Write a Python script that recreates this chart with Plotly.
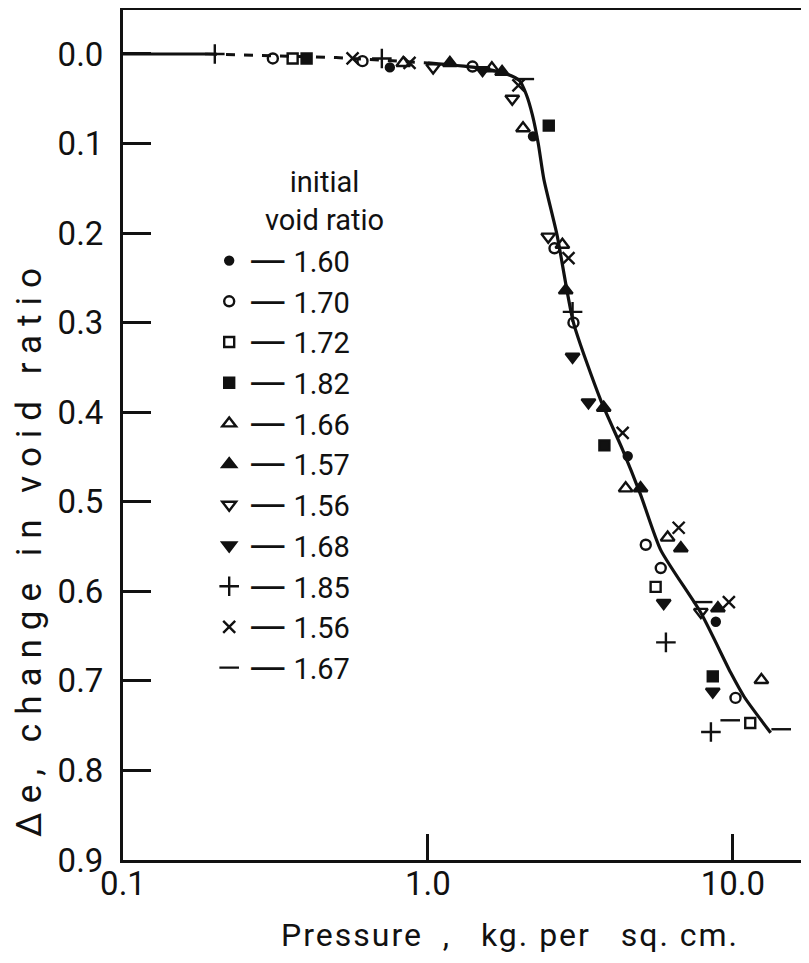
import plotly.graph_objects as go

# ---------------- data ----------------
# fitted curve (pressure kg/cm2, change in void ratio)
curve_p = [0.1, 0.19, 0.5, 1.0, 1.5, 1.8, 2.0, 2.1, 2.2, 2.3, 2.4, 2.65, 3.0, 3.68, 4.35, 4.98, 5.8, 7.85, 9.84, 10.9, 13.3]
curve_e = [0.0, 0.0, 0.004, 0.01, 0.016, 0.022, 0.03, 0.045, 0.068, 0.10, 0.14, 0.202, 0.30, 0.386, 0.442, 0.492, 0.554, 0.624, 0.691, 0.718, 0.758]

labels = ["1.60", "1.70", "1.72", "1.82", "1.66", "1.57", "1.56", "1.68", "1.85", "1.56", "1.67"]

p_160 = [0.75, 2.21, 4.52, 8.79]
e_160 = [0.015, 0.092, 0.449, 0.634]

p_170 = [0.31, 0.61, 1.40, 2.60, 3.0, 5.18, 5.8, 10.2]
e_170 = [0.005, 0.008, 0.014, 0.217, 0.30, 0.548, 0.574, 0.719]

p_172 = [0.36, 5.58, 11.4]
e_172 = [0.005, 0.595, 0.747]

p_182 = [0.40, 2.49, 3.79, 8.59]
e_182 = [0.005, 0.080, 0.437, 0.695]

p_166 = [0.83, 1.62, 2.05, 2.76, 4.45, 6.11, 12.4]
e_166 = [0.010, 0.016, 0.083, 0.213, 0.485, 0.540, 0.699]

p_157 = [1.18, 1.75, 2.83, 3.77, 4.98, 6.75, 8.93]
e_157 = [0.010, 0.020, 0.264, 0.395, 0.485, 0.552, 0.619]

p_156a = [1.04, 1.89, 2.48, 7.85]
e_156a = [0.015, 0.050, 0.204, 0.623]

p_168 = [1.51, 2.98, 3.36, 5.93, 8.59]
e_168 = [0.018, 0.338, 0.389, 0.613, 0.712]

p_185 = [0.20, 0.706, 2.98, 6.03, 8.47]
e_185 = [0.0, 0.005, 0.288, 0.657, 0.757]

p_156b = [0.566, 0.87, 1.98, 2.89, 4.35, 6.64, 9.70]
e_156b = [0.005, 0.010, 0.035, 0.228, 0.423, 0.529, 0.612]

p_167 = [2.07, 7.96, 9.8, 14.4]
e_167 = [0.028, 0.612, 0.744, 0.754]

y_ticks = [0.0, 0.1, 0.2, 0.3, 0.4, 0.5, 0.6, 0.7, 0.8, 0.9]
y_ticktext = ["0.0", "0.1", "0.2", "0.3", "0.4", "0.5", "0.6", "0.7", "0.8", "0.9"]
x_ticks = [0.1, 1.0, 10.0]
x_ticktext = ["0.1", "1.0", "10.0"]

legend_title = "initial<br>void ratio"
x_title = "Pressure\u00a0 ,\u00a0\u00a0 kg. per\u00a0\u00a0 sq. cm."
y_title = "\u0394e, change in void ratio"

# ---------------- style ----------------
FONT = "Roboto, Liberation Sans, sans-serif"
INK = "#111111"
DASH = '<span style="font-family:DejaVu Sans;font-size:37px">\u2014</span> '

series = [
    (p_160, e_160, "circle", 8),
    (p_170, e_170, "circle-open", 10),
    (p_172, e_172, "square-open", 10),
    (p_182, e_182, "square", 10),
    (p_166, e_166, "triangle-up-open", 12),
    (p_157, e_157, "triangle-up", 12),
    (p_156a, e_156a, "triangle-down-open", 12),
    (p_168, e_168, "triangle-down", 12),
    (p_185, e_185, "cross-thin", 14),
    (p_156b, e_156b, "x-thin", 12),
    (p_167, e_167, "line-ew", 14),
]

fig = go.Figure()

# curve: solid start, dashed middle, solid main branch
fig.add_trace(go.Scatter(x=curve_p[0:2], y=curve_e[0:2], mode="lines",
                         line=dict(color=INK, width=3), showlegend=False, hoverinfo="skip"))
fig.add_trace(go.Scatter(x=curve_p[1:4], y=curve_e[1:4], mode="lines",
                         line=dict(color=INK, width=3, dash="dash"), showlegend=False, hoverinfo="skip"))
fig.add_trace(go.Scatter(x=curve_p[3:], y=curve_e[3:], mode="lines",
                         line=dict(color=INK, width=3.2, shape="spline", smoothing=0.6),
                         showlegend=False, hoverinfo="skip"))

for (px, ey, sym, size), lab in zip(series, labels):
    fig.add_trace(go.Scatter(
        x=px, y=ey, mode="markers", name=DASH + lab,
        marker=dict(symbol=sym, size=size, color=INK,
                    line=dict(color=INK, width=2.4)),
    ))

# page body has an 8px margin: figure is sized/offset to compensate
fig.update_layout(
    width=801, height=955,
    margin=dict(l=115, r=2, t=2, b=103),
    paper_bgcolor="white", plot_bgcolor="white",
    font=dict(family=FONT, size=30, color=INK),
    showlegend=True,
    legend=dict(
        x=0.126, y=0.735, xanchor="left", yanchor="top",
        bgcolor="rgba(0,0,0,0)",
        font=dict(family=FONT, size=29, color=INK),
        itemwidth=30,
    ),
    annotations=[
        dict(text=legend_title, xref="paper", yref="paper", x=0.295, y=0.775,
             xanchor="center", yanchor="middle", align="center", showarrow=False,
             font=dict(family=FONT, size=29, color=INK)),
        dict(text='<span style="letter-spacing:2px">' + x_title + '</span>',
             xref="paper", yref="paper", x=(510 - 123) / 684, y=0, yshift=-75,
             xanchor="center", yanchor="middle", showarrow=False,
             font=dict(family=FONT, size=32, color=INK)),
        dict(text='<span style="letter-spacing:9px">' + y_title + '</span>',
             xref="paper", yref="paper", x=0, xshift=-94, y=1 - (548 - 10) / 850,
             xanchor="center", yanchor="middle", textangle=-90, showarrow=False,
             font=dict(family=FONT, size=35, color=INK)),
    ],
)

fig.update_xaxes(
    type="log", range=[-1, 1.243], automargin=False,
    tickvals=x_ticks, ticktext=x_ticktext,
    ticks="inside", ticklen=26, tickwidth=2.5, tickcolor=INK,
    showline=True, linewidth=3, linecolor=INK, mirror=True,
    showgrid=False, zeroline=False,
    tickfont=dict(family=FONT, size=33, color=INK),
    ticklabelstandoff=-8,
)
fig.update_yaxes(
    range=[0.9, -0.0491], automargin=False,
    tickvals=y_ticks, ticktext=y_ticktext,
    ticks="inside", ticklen=28, tickwidth=2.5, tickcolor=INK,
    showline=True, linewidth=3, linecolor=INK, mirror=True,
    showgrid=False, zeroline=False,
    tickfont=dict(family=FONT, size=33, color=INK),
    ticklabelstandoff=10,
)

fig.write_html("out.html")
